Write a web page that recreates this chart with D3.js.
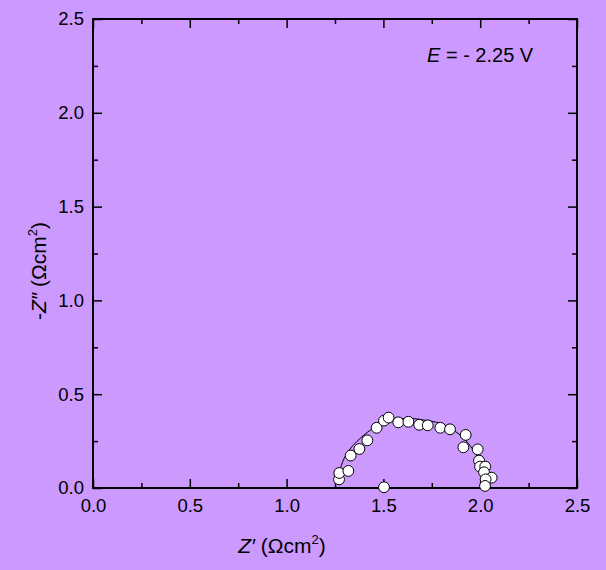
<!DOCTYPE html>
<html><head><meta charset="utf-8">
<script src="https://cdn.jsdelivr.net/npm/d3@7"></script>
<style>
html,body{margin:0;padding:0;background:#cc99ff;}
svg{display:block;}
text{font-family:"Liberation Sans",Arial,sans-serif;fill:#000;}
</style></head><body>
<svg id="c" width="606" height="570"></svg>
<script>
// measured impedance points (Z', -Z'')
const zReal = [1.271,1.272,1.319,1.331,1.376,1.417,1.465,1.503,1.527,1.577,1.629,1.685,1.729,1.794,1.844,1.925,1.913,1.987,1.994,1.999,2.026,2.020,2.059,2.028,2.025,1.503];
const zImag = [0.046,0.080,0.091,0.173,0.208,0.254,0.321,0.359,0.375,0.350,0.353,0.337,0.334,0.321,0.313,0.283,0.217,0.206,0.146,0.114,0.114,0.084,0.055,0.046,0.011,0.004];
// fitted curve
const fitReal = [1.262,1.275,1.293,1.325,1.362,1.405,1.45,1.53,1.637,1.72,1.792,1.896,1.964,1.995,2.008,2.016];
const fitImag = [0.016,0.09,0.149,0.205,0.247,0.287,0.32,0.36,0.371,0.36,0.345,0.283,0.203,0.145,0.096,0.016];
const xTicks = [0.0,0.5,1.0,1.5,2.0,2.5];
const yTicks = [0.0,0.5,1.0,1.5,2.0,2.5];
const minorTicks = [0.25,0.75,1.25,1.75,2.25];

const svg = d3.select("#c");
const L=93, R=577, T=19, B=488;
const x = d3.scaleLinear().domain([0,2.5]).range([L,R]);
const y = d3.scaleLinear().domain([0,2.5]).range([B,T]);
const fmt = d3.format(".1f");

function styleAxis(g){
  g.select(".domain").remove();
  g.selectAll(".tick line").attr("stroke","#000").attr("stroke-width",1.5);
  g.selectAll(".tick text").style("font-size","18.5px").attr("fill","#000");
}
// bottom
svg.append("g").attr("transform",`translate(0,${B})`)
  .call(d3.axisBottom(x).tickValues(xTicks).tickFormat(fmt).tickSize(-9).tickPadding(11)).call(styleAxis);
svg.append("g").attr("transform",`translate(0,${B})`)
  .call(d3.axisBottom(x).tickValues(minorTicks).tickFormat("").tickSize(-5)).call(styleAxis);
// top
svg.append("g").attr("transform",`translate(0,${T})`)
  .call(d3.axisTop(x).tickValues(xTicks).tickFormat("").tickSize(-9)).call(styleAxis);
svg.append("g").attr("transform",`translate(0,${T})`)
  .call(d3.axisTop(x).tickValues(minorTicks).tickFormat("").tickSize(-5)).call(styleAxis);
// left
svg.append("g").attr("transform",`translate(${L},0)`)
  .call(d3.axisLeft(y).tickValues(yTicks).tickFormat(fmt).tickSize(-9).tickPadding(9)).call(styleAxis);
svg.append("g").attr("transform",`translate(${L},0)`)
  .call(d3.axisLeft(y).tickValues(minorTicks).tickFormat("").tickSize(-5)).call(styleAxis);
// right
svg.append("g").attr("transform",`translate(${R},0)`)
  .call(d3.axisRight(y).tickValues(yTicks).tickFormat("").tickSize(-9)).call(styleAxis);
svg.append("g").attr("transform",`translate(${R},0)`)
  .call(d3.axisRight(y).tickValues(minorTicks).tickFormat("").tickSize(-5)).call(styleAxis);

// frame
svg.append("rect").attr("x",L).attr("y",T).attr("width",R-L).attr("height",B-T)
  .attr("fill","none").attr("stroke","#000").attr("stroke-width",2);

// fit line
const fit = fitReal.map((v,i)=>[v,fitImag[i]]);
svg.append("path").datum(fit)
  .attr("d",d3.line().x(d=>x(d[0])).y(d=>y(d[1])).curve(d3.curveCatmullRom))
  .attr("fill","none").attr("stroke","#000").attr("stroke-width",1);

// points
const pts = zReal.map((v,i)=>[v,zImag[i]]);
svg.append("g").selectAll("circle").data(pts).join("circle")
  .attr("cx",d=>x(d[0])).attr("cy",d=>y(d[1])).attr("r",5.4)
  .attr("fill","#fff").attr("stroke","#000").attr("stroke-width",1);

// annotation
const ann = svg.append("text").attr("x",427).attr("y",62).style("font-size","20px");
ann.append("tspan").style("font-style","italic").text("E");
ann.append("tspan").text(" = - 2.25 V");

// x label
const xl = svg.append("text").attr("x",282).attr("y",553).attr("text-anchor","middle").style("font-size","21px");
xl.append("tspan").style("font-style","italic").text("Z′");
xl.append("tspan").text(" (Ωcm");
xl.append("tspan").attr("dy",-9).style("font-size","13px").text("2");
xl.append("tspan").attr("dy",9).text(")");

// y label
const yl = svg.append("text").attr("transform","translate(46,271) rotate(-90)").attr("text-anchor","middle").style("font-size","21px");
yl.append("tspan").text("-");
yl.append("tspan").style("font-style","italic").text("Z″");
yl.append("tspan").text(" (Ωcm");
yl.append("tspan").attr("dy",-9).style("font-size","13px").text("2");
yl.append("tspan").attr("dy",9).text(")");
</script></body></html>
